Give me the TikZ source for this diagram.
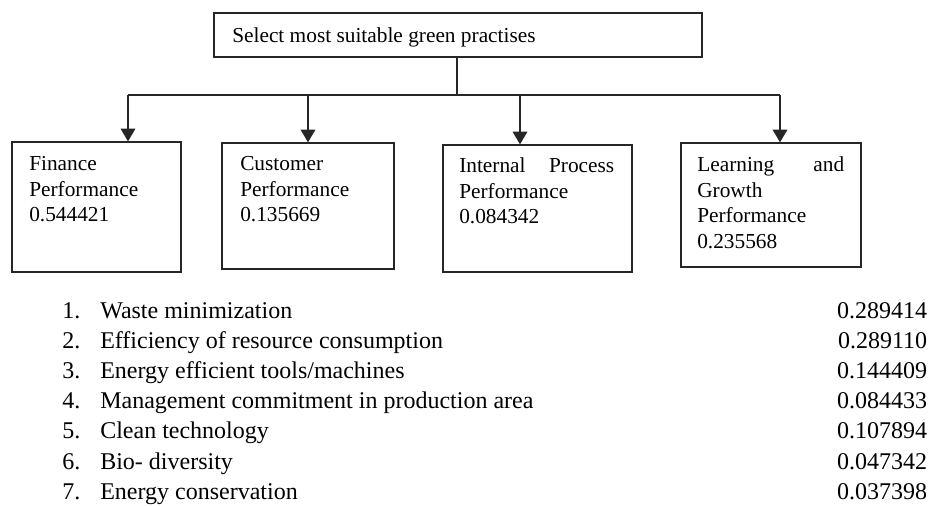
\documentclass[tikz,border=0pt]{standalone}
\usepackage{fontspec}
\setmainfont{Liberation Serif}
\usetikzlibrary{arrows.meta}
\begin{document}
\begin{tikzpicture}[x=0.75pt,y=-0.75pt,
  box/.style={draw=black!85,line width=1pt,rectangle,inner sep=0pt},
  conn/.style={draw=black!85,line width=0.9pt},
  arr/.style={conn,-{Triangle[width=11pt,length=9.5pt]}},
  boxtext/.style={anchor=base west,inner sep=0pt,font=\fontsize{16}{19.1}\selectfont},
  listtext/.style={anchor=base west,inner sep=0pt,font=\fontsize{18}{23}\selectfont},
  listval/.style={anchor=base east,inner sep=0pt,font=\fontsize{18}{23}\selectfont}]
\useasboundingbox (0,0) rectangle (932,506);
% boxes
\node[box,minimum width=366pt,minimum height=33pt] (top) at (458,35) {};
\node[box,minimum width=126.75pt,minimum height=97.5pt] (fin) at (96.5,207) {};
\node[box,minimum width=129pt,minimum height=94.5pt] (cus) at (308,206) {};
\node[box,minimum width=141.75pt,minimum height=95.25pt] (int) at (537.5,208.5) {};
\node[box,minimum width=135pt,minimum height=93pt] (lrn) at (771,205) {};
% texts
\node[boxtext] (toptext) at (232,43) {Select most suitable green practises};
\node[boxtext] (fintext) at (29,170.7) {\parbox[t]{120pt}{Finance\\Performance\\0.544421}};
\node[boxtext] (custext) at (240,171) {\parbox[t]{120pt}{Customer\\Performance\\0.135669}};
\node[boxtext] (inttext) at (459,173) {\parbox[t]{116.25pt}{Internal\hfill Process\\Performance\\0.084342}};
\node[boxtext] (lrntext) at (697,172) {\parbox[t]{110.25pt}{Learning\hfill and\\Growth\\Performance\\0.235568}};
% connectors
\coordinate (mid) at (457,95);
\coordinate (j1) at (128,95);
\coordinate (j2) at (308,95);
\coordinate (j3) at (520,95);
\coordinate (j4) at (780,95);
\draw[conn] (top.south -| mid) -- (mid);
\draw[conn] (j1) -- (j4);
\draw[arr] (j1) -- (j1 |- fin.north);
\draw[arr] (j2) -- (j2 |- cus.north);
\draw[arr] (j3) -- (j3 |- int.north);
\draw[arr] (j4) -- (j4 |- lrn.north);
% list
\foreach \i/\t/\v in {1/Waste minimization/0.289414,
  2/Efficiency of resource consumption/0.289110,
  3/Energy efficient tools\slash machines/0.144409,
  4/Management commitment in production area/0.084433,
  5/Clean technology/0.107894,
  6/Bio- diversity/0.047342,
  7/Energy conservation/0.037398}{
  \pgfmathsetmacro{\yy}{318+30.2*(\i-1)}
  \node[listtext] (num\i) at (62,\yy) {\i.};
  \node[listtext] (item\i) at (100,\yy) {\t};
  \node[listval] (val\i) at (927.5,\yy) {\v};
}
\end{tikzpicture}
\end{document}
